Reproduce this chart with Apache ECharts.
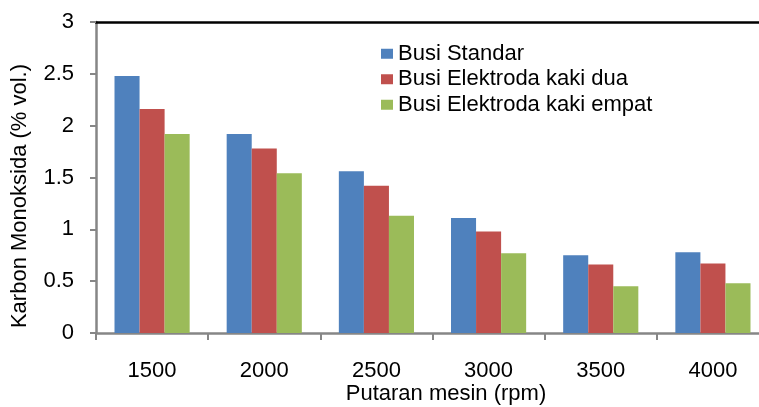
<!DOCTYPE html>
<html>
<head>
<meta charset="utf-8">
<title>Karbon Monoksida</title>
<script src="https://cdn.jsdelivr.net/npm/echarts@6/dist/echarts.min.js"></script>
<style>
  html, body { margin: 0; padding: 0; background: #fff; }
  #chart { width: 759px; height: 407px; overflow: hidden; }
</style>
</head>
<body>
<div id="chart"></div>
<script>
// Engine speed categories (rpm)
const categories = ['1500', '2000', '2500', '3000', '3500', '4000'];

// CO emission (% vol.) per spark plug type
const busiStandar = [2.48, 1.92, 1.56, 1.11, 0.75, 0.78];
const busiKakiDua = [2.16, 1.78, 1.42, 0.98, 0.66, 0.67];
const busiKakiEmpat = [1.92, 1.54, 1.13, 0.77, 0.45, 0.48];

const seriesNames = ['Busi Standar', 'Busi Elektroda kaki dua', 'Busi Elektroda kaki empat'];
const seriesColors = ['#4F81BD', '#C0504D', '#9BBB59'];

const FONT = '"Liberation Sans", Arial, sans-serif';
const FONT_SIZE = 22;

const chart = echarts.init(document.getElementById('chart'), null, { renderer: 'canvas' });

const makeBar = (name, data, color) => ({
  name: name,
  type: 'bar',
  data: data,
  barGap: '0%',
  barCategoryGap: '33%',
  itemStyle: { color: color },
  emphasis: { disabled: true }
});

chart.setOption({
  animation: false,
  backgroundColor: '#ffffff',
  // plot area runs a little past the right edge of the canvas
  grid: { left: 96, top: 22, width: 673, height: 311, containLabel: false, outerBoundsMode: 'none' },
  legend: {
    orient: 'vertical',
    left: 381,
    top: 41,
    padding: 0,
    itemWidth: 12,
    itemHeight: 10,
    itemGap: 0,
    icon: 'rect',
    selectedMode: false,
    textStyle: { fontFamily: FONT, fontSize: FONT_SIZE, color: '#000', lineHeight: 25.5 },
    data: seriesNames
  },
  xAxis: [
    {
      type: 'category',
      data: categories,
      position: 'bottom',
      axisLine: { show: true, lineStyle: { color: '#868686', width: 2.5 } },
      axisTick: { show: true, length: 7, inside: false, lineStyle: { color: '#868686', width: 2 } },
      axisLabel: { fontFamily: FONT, fontSize: FONT_SIZE, color: '#000', margin: 27 },
      splitLine: { show: false }
    },
    {
      type: 'category',
      data: categories,
      position: 'top',
      axisLine: { show: true, lineStyle: { color: '#000', width: 2.5 } },
      axisTick: { show: false },
      axisLabel: { show: false },
      splitLine: { show: false }
    }
  ],
  yAxis: {
    type: 'value',
    min: 0,
    max: 3,
    interval: 0.5,
    axisLine: { show: true, lineStyle: { color: '#868686', width: 2.5 } },
    axisTick: { show: true, length: 6, inside: false, lineStyle: { color: '#868686', width: 2 } },
    axisLabel: { fontFamily: FONT, fontSize: FONT_SIZE, color: '#000', margin: 22 },
    splitLine: { show: false }
  },
  graphic: [
    {
      type: 'text',
      x: 20,
      y: 196,
      rotation: Math.PI / 2,
      style: {
        text: 'Karbon Monoksida (% vol.)',
        font: FONT_SIZE + 'px ' + FONT,
        fill: '#000',
        align: 'center',
        verticalAlign: 'middle'
      }
    },
    {
      type: 'text',
      x: 446,
      y: 394,
      style: {
        text: 'Putaran mesin (rpm)',
        font: FONT_SIZE + 'px ' + FONT,
        fill: '#000',
        align: 'center',
        verticalAlign: 'middle'
      }
    }
  ],
  series: [
    makeBar(seriesNames[0], busiStandar, seriesColors[0]),
    makeBar(seriesNames[1], busiKakiDua, seriesColors[1]),
    makeBar(seriesNames[2], busiKakiEmpat, seriesColors[2])
  ]
});
</script>
</body>
</html>
